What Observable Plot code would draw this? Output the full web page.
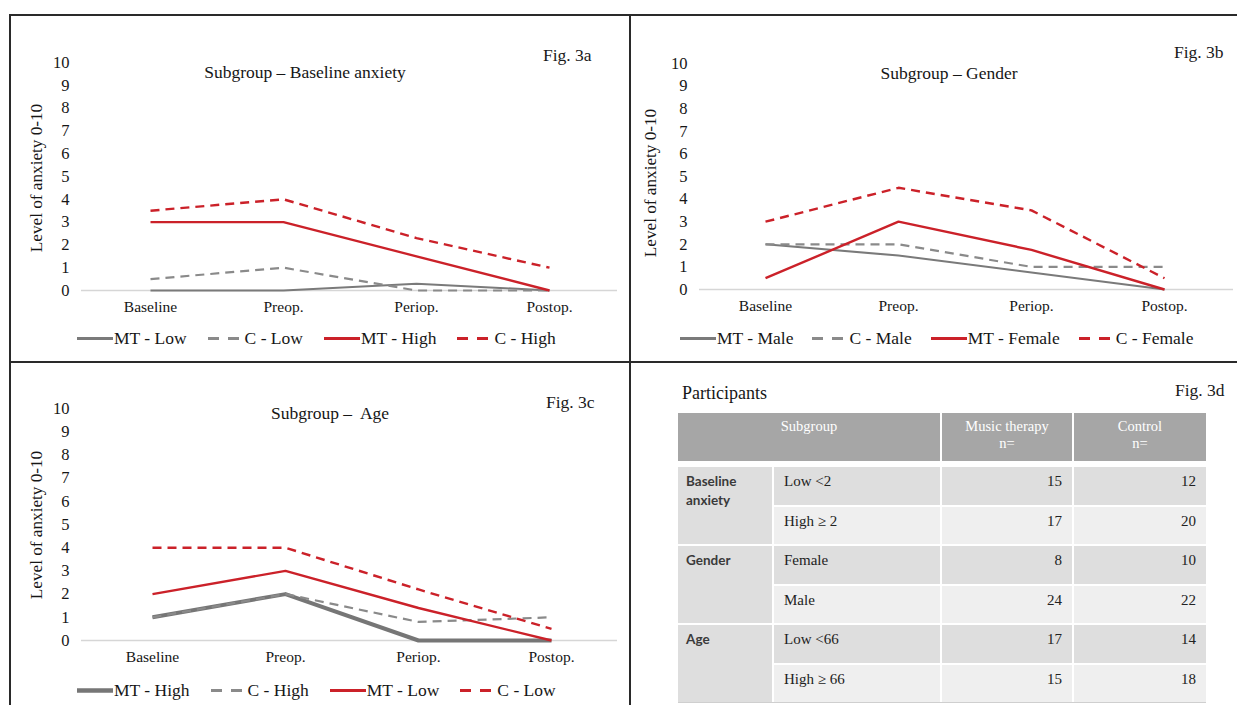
<!DOCTYPE html>
<html><head><meta charset="utf-8">
<script src="https://cdn.jsdelivr.net/npm/d3@7"></script>
<script src="https://cdn.jsdelivr.net/npm/@observablehq/plot@0.6"></script>
<style>
body{margin:0;background:#fff;font-family:'Liberation Serif','Times New Roman',serif;color:#161616}
#root{position:relative;width:1237px;height:705px;overflow:hidden;background:#fff}
.line{position:absolute;background:#2a2a2a}
.title{position:absolute;transform:translate(-50%,-50%);font-size:17.5px;white-space:pre}
.fig{position:absolute;transform:translateY(-50%);font-size:17.5px;color:#1a1a1a;white-space:nowrap}
.ylab{position:absolute;transform:translate(-50%,-50%) rotate(-90deg);font-size:17.2px;white-space:nowrap}
.legend{position:absolute;display:flex;align-items:center;transform:translateY(-50%);font-size:17.5px;white-space:nowrap}
.item{display:flex;align-items:center}
.item svg{display:block}
.plotbox{position:absolute}
.tbl{position:absolute;left:678px;top:413px;width:528px;display:grid;grid-template-columns:94px 166px 130px 132px;column-gap:2px;row-gap:2px;background:#fff}
.tbl div{box-sizing:border-box}
.th{background:#a6a6a6;color:#fff;font-size:14.5px;text-align:center;padding-top:5px;line-height:17px;height:48px}
.grp{background:#dedede;font-family:Lato,'Liberation Sans',sans-serif;font-weight:700;font-size:13.5px;color:#3a3a3a;padding:5px 0 0 8px;line-height:19px}
.sub{font-size:15px;padding:6px 0 0 10px;color:#222}
.num{font-size:15px;padding:6px 10px 0 0;text-align:right;color:#222}
.dark{background:#dedede}.light{background:#efefef}
</style>
</head><body><div id="root"></div>
<script>
// ---------- data ----------
const steps = ["Baseline", "Preop.", "Periop.", "Postop."];
const yTicks = [0, 1, 2, 3, 4, 5, 6, 7, 8, 9, 10];

// Fig. 3a  Subgroup – Baseline anxiety
const figA_names = ["MT - Low", "C - Low", "MT - High", "C - High"];
const figA_MT_Low  = [0, 0, 0.3, 0];
const figA_C_Low   = [0.5, 1, 0, 0];
const figA_MT_High = [3, 3, 1.5, 0];
const figA_C_High  = [3.5, 4, 2.3, 1];

// Fig. 3b  Subgroup – Gender
const figB_names = ["MT - Male", "C - Male", "MT - Female", "C - Female"];
const figB_MT_Male   = [2, 1.5, 0.75, 0];
const figB_C_Male    = [2, 2, 1, 1];
const figB_MT_Female = [0.5, 3, 1.75, 0];
const figB_C_Female  = [3, 4.5, 3.5, 0.5];

// Fig. 3c  Subgroup – Age
const figC_names = ["MT - High", "C - High", "MT - Low", "C - Low"];
const figC_MT_High = [1, 2, 0, 0];
const figC_C_High  = [1, 2, 0.8, 1];
const figC_MT_Low  = [2, 3, 1.4, 0];
const figC_C_Low   = [4, 4, 2.2, 0.5];

// Fig. 3d  Participants
const tableHeader = ["Subgroup", "Music therapy", "Control"];
const tableGroups = ["Baseline anxiety", "Gender", "Age"];
const tableSubgroups = [["Low <2", "High \u2265 2"], ["Female", "Male"], ["Low <66", "High \u2265 66"]];
const nMusicTherapy = [15, 17, 8, 24, 17, 15];
const nControl = [12, 20, 10, 22, 14, 18];

const titles = ["Subgroup \u2013 Baseline anxiety", "Subgroup \u2013 Gender", "Subgroup \u2013  Age"];
const figLabels = ["Fig. 3a", "Fig. 3b", "Fig. 3c", "Fig. 3d"];
const yLabel = "Level of anxiety 0-10";

// ---------- styles ----------
const GRAY = "#7a7a7a", GRAY_D = "#8a8a8a", RED = "#cb2129";
const baseStyles = [
  {color: GRAY, dash: null, w: 2},
  {color: GRAY_D, dash: "9,6", w: 2.2},
  {color: RED, dash: null, w: 2.4},
  {color: RED, dash: "9,6", w: 2.4}
];

const root = document.getElementById("root");
function el(tag, cls, css, text) {
  const e = document.createElement(tag);
  if (cls) e.className = cls;
  if (css) Object.assign(e.style, css);
  if (text != null) e.textContent = text;
  root.appendChild(e);
  return e;
}

// frame lines
el("div", "line", {left: "9px", top: "14px", width: "1228px", height: "2px"});
el("div", "line", {left: "9px", top: "14px", width: "2px", height: "691px"});
el("div", "line", {left: "629px", top: "14px", width: "2px", height: "691px"});
el("div", "line", {left: "9px", top: "361px", width: "1228px", height: "2px"});

function panel(names, seriesValues, styles, opt) {
  const marks = [
    Plot.ruleY([0], {stroke: "#d6d6d6", strokeWidth: 1.5}),
    Plot.axisX({tickSize: 0, tickPadding: 10, fontSize: 15.5, label: null}),
    Plot.axisY({tickSize: 0, tickPadding: opt.tickPad, ticks: yTicks, tickFormat: d => d, fontSize: 16.5, label: null})
  ];
  seriesValues.forEach((vals, k) => {
    const st = styles[k];
    const data = steps.map((s, i) => ({step: s, value: vals[i], series: names[k]}));
    marks.push(Plot.line(data, {x: "step", y: "value", stroke: st.color, strokeWidth: st.w,
      strokeDasharray: st.dash || undefined, strokeLinejoin: "round", strokeLinecap: "butt"}));
  });
  const svg = Plot.plot({
    width: opt.width, height: opt.height,
    marginLeft: opt.ml, marginRight: opt.mr, marginTop: opt.mt, marginBottom: opt.mb,
    style: {fontFamily: "'Liberation Serif','Times New Roman',serif", color: "#161616", background: "transparent", overflow: "visible"},
    x: {type: "point", domain: steps, range: opt.xRange, padding: 0},
    y: {domain: [0, 10]},
    marks
  });
  const box = el("div", "plotbox", {left: opt.left + "px", top: opt.top + "px"});
  box.appendChild(svg);

  el("div", "ylab", {left: opt.ylx + "px", top: opt.yly + "px"}, yLabel);
  el("div", "title", {left: opt.tx + "px", top: opt.ty + "px"}, opt.title);
  el("div", "fig", {left: opt.fx + "px", top: opt.fy + "px"}, opt.fig);
  const lg = el("div", "legend", {left: opt.lx + "px", top: opt.ly + "px"});
  names.forEach((n, k) => {
    const st = styles[k];
    const it = document.createElement("div");
    it.className = "item";
    it.style.marginRight = (k < names.length - 1 ? opt.lgap : 0) + "px";
    const sw = st.dash ? 31 : 36;
    const ns = "http://www.w3.org/2000/svg";
    const s = document.createElementNS(ns, "svg");
    s.setAttribute("width", sw); s.setAttribute("height", 10);
    s.style.marginRight = st.dash ? "6px" : "1px";
    const ln = document.createElementNS(ns, "line");
    ln.setAttribute("x1", 0); ln.setAttribute("x2", sw); ln.setAttribute("y1", 5); ln.setAttribute("y2", 5);
    ln.setAttribute("stroke", st.color);
    ln.setAttribute("stroke-width", st.lw || 3);
    if (st.dash) ln.setAttribute("stroke-dasharray", "11,9");
    s.appendChild(ln);
    it.appendChild(s);
    const t = document.createElement("span"); t.textContent = n;
    it.appendChild(t);
    lg.appendChild(it);
  });
}

// Fig 3a
panel(figA_names, [figA_MT_Low, figA_C_Low, figA_MT_High, figA_C_High], baseStyles, {
  left: 20, top: 40, width: 605, height: 280, ml: 61, mr: 8, mt: 22, mb: 30, tickPad: 12,
  xRange: [130, 529], ylx: 37, yly: 178, tx: 305, ty: 72, title: titles[0], fx: 543, fy: 55, fig: figLabels[0],
  lx: 77, ly: 338, lgap: 21
});
// Fig 3b
panel(figB_names, [figB_MT_Male, figB_C_Male, figB_MT_Female, figB_C_Female], baseStyles, {
  left: 630, top: 40, width: 607, height: 279, ml: 69, mr: 4, mt: 23, mb: 30, tickPad: 12,
  xRange: [134, 535], ylx: 651, yly: 183, tx: 949, ty: 73, title: titles[1], fx: 1174, fy: 52, fig: figLabels[1],
  lx: 680, ly: 338, lgap: 19
});
// Fig 3c
const cStyles = baseStyles.map((s, i) => i === 0 ? Object.assign({}, s, {w: 4, lw: 4.5, color: "#767676"}) : s);
panel(figC_names, [figC_MT_High, figC_C_High, figC_MT_Low, figC_C_Low], cStyles, {
  left: 20, top: 380, width: 605, height: 290, ml: 61, mr: 8, mt: 28, mb: 30, tickPad: 12,
  xRange: [131, 532], ylx: 37, yly: 525, tx: 330, ty: 413, title: titles[2], fx: 546, fy: 402, fig: figLabels[2],
  lx: 77, ly: 690, lgap: 21
});

// Fig 3d table
el("div", "title", {left: "682px", top: "393px", transform: "translateY(-50%)", fontSize: "18px"}, "Participants");
el("div", "fig", {left: "1175px", top: "390px"}, figLabels[3]);
el("div", null, {position: "absolute", left: "678px", top: "702px", width: "528px", height: "1px", background: "#cfcfcf"});

const tbl = el("div", "tbl");
tbl.style.gridTemplateRows = "48px 2px repeat(6, 37.5px)";
function cell(cls, text, gc, gr, extra) {
  const d = document.createElement("div");
  d.className = cls;
  d.style.gridColumn = gc; d.style.gridRow = gr;
  if (extra) Object.assign(d.style, extra);
  if (Array.isArray(text)) {
    text.forEach((t, i) => { if (i) d.appendChild(document.createElement("br")); d.appendChild(document.createTextNode(t)); });
  } else d.textContent = text;
  tbl.appendChild(d);
}
cell("th", tableHeader[0], "1 / span 2", "1");
cell("th", [tableHeader[1], "n="], "3", "1");
cell("th", [tableHeader[2], "n="], "4", "1");
let r = 0;
tableGroups.forEach((g, gi) => {
  const rowStart = 3 + gi * 2;
  const words = g.split(" ");
  cell("grp", words, "1", rowStart + " / span 2");
  tableSubgroups[gi].forEach((s, si) => {
    const shade = si === 0 ? "dark" : "light";
    const row = String(rowStart + si);
    cell("sub " + shade, s, "2", row);
    cell("num " + shade, String(nMusicTherapy[r]), "3", row);
    cell("num " + shade, String(nControl[r]), "4", row);
    r++;
  });
});
</script>
</body></html>
